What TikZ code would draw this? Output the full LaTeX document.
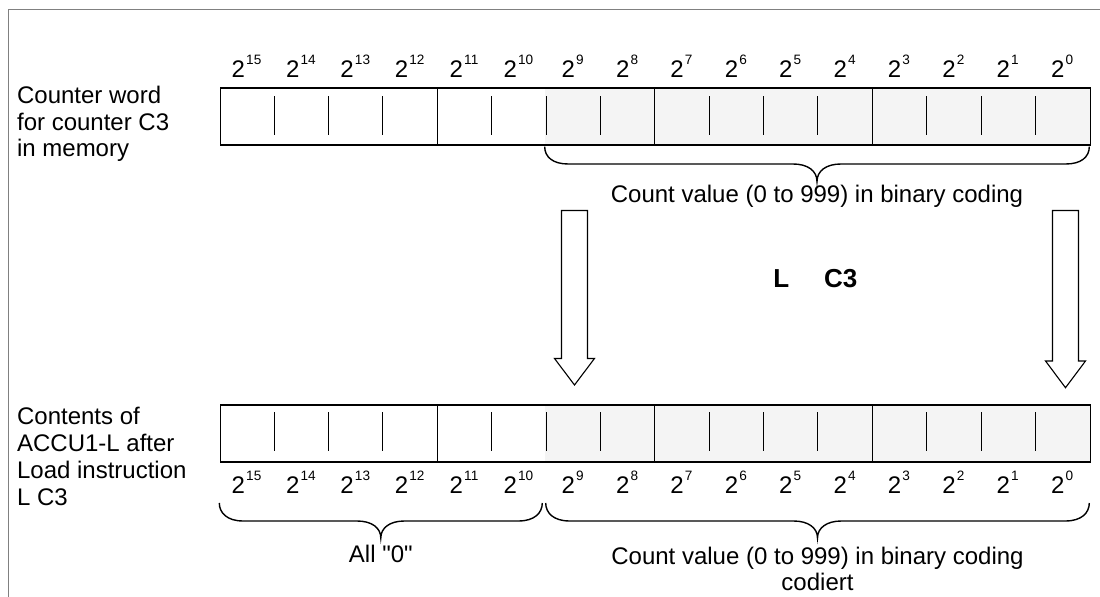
\documentclass[tikz,border=0pt]{standalone}
\usepackage{fontspec}
\setmainfont{Liberation Sans}
\newcommand{\pwr}[1]{2\hspace{0.6pt}\raisebox{6.8pt}{\fontsize{6.8}{7}\selectfont #1}}
\newcommand{\sq}{\XeTeXglyph\XeTeXglyphindex "quotedbl" }
\begin{document}
\begin{tikzpicture}[x=0.5pt,y=-0.5pt,
  lbl/.style={font=\fontsize{12}{13.5}\selectfont, inner sep=0pt, anchor=base west},
  txt/.style={font=\fontsize{12}{13.5}\selectfont, inner sep=0pt, anchor=base},
  bit/.style={font=\fontsize{12}{13.5}\selectfont, inner sep=0pt, anchor=base},
  regbox/.style={draw, line width=0.8pt, inner sep=0pt, minimum width=435pt, minimum height=28.5pt, anchor=north west},
  shade/.style={fill=gray!9},
  tickline/.style={line width=0.75pt},
  brace/.style={line width=0.7pt},
  blockarrow/.style={draw, line width=0.55pt, fill=white, line join=miter},
  framel/.style={draw=gray, line width=0.7pt}]
\useasboundingbox (0,0) rectangle (1100,597);
\fill[white] (0,0) rectangle (1100,597);
\draw[framel] (8.5,597) -- (8.5,9.5) -- (1100,9.5);

% ---------- top register ----------
\fill[shade] (544.5,87.5) rectangle (1089.5,144.5);
\node[regbox] (reg1) at (219.5,87.5) {};
\foreach \i in {4,8,12} \draw[line width=0.8pt] ({round(219.3+\i*54.375)+0.5},87.5) -- ({round(219.3+\i*54.375)+0.5},144.5);
\foreach \i in {1,2,3,5,6,7,9,10,11,13,14,15} \draw[tickline] ({round(219.3+\i*54.375)+0.5},96.5) -- ({round(219.3+\i*54.375)+0.5},135.5);
\foreach \b in {0,...,15} \node[bit] (tb\b) at ({219.3+(15-\b+0.5)*54.375},78) {\pwr{\b}};

% ---------- bottom register ----------
\fill[shade] (544.5,404.5) rectangle (1089.5,461.5);
\node[regbox] (reg2) at (219.5,404.5) {};
\foreach \i in {4,8,12} \draw[line width=0.8pt] ({round(219.3+\i*54.375)+0.5},404.5) -- ({round(219.3+\i*54.375)+0.5},461.5);
\foreach \i in {1,2,3,5,6,7,9,10,11,13,14,15} \draw[tickline] ({round(219.3+\i*54.375)+0.5},412.5) -- ({round(219.3+\i*54.375)+0.5},451.5);
\foreach \b in {0,...,15} \node[bit] (bb\b) at ({219.3+(15-\b+0.5)*54.375},494) {\pwr{\b}};

% ---------- left labels ----------
\node[lbl] (t1) at (16.7,104) {Counter word};
\node[lbl] (t2) at (16.7,130.5) {for counter C3};
\node[lbl] (t3) at (16.7,157) {in memory};
\node[lbl] (b1) at (16.7,424.3) {Contents of};
\node[lbl] (b2) at (16.7,451.5) {ACCU1-L after};
\node[lbl] (b3) at (16.7,478.7) {Load instruction};
\node[lbl] (b4) at (16.7,506) {L C3};

% ---------- braces ----------
\draw[brace] (544.7,146.7) .. controls (544.7,157) and (553,164) .. (568,164) -- (793,164)
  .. controls (808,164) and (817,171) .. (817,181.5) .. controls (817,171) and (826,164) .. (841,164)
  -- (1066,164) .. controls (1081,164) and (1089.3,157) .. (1089.3,146.7);
\node[txt] (cv1) at (817,203) {Count value (0 to 999) in binary coding};

\draw[brace] (219.3,503) .. controls (219.3,513) and (227.3,521) .. (243,521) -- (357,521)
  .. controls (372,521) and (380.8,528) .. (380.8,538) .. controls (380.8,528) and (389.6,521) .. (404.6,521)
  -- (518.6,521) .. controls (534.3,521) and (542.3,513) .. (542.3,503);
\node[txt] (zero) at (380.8,563) {All \sq0\sq};

\draw[brace] (545.7,503) .. controls (545.7,513) and (553.7,521) .. (569.5,521) -- (793.5,521)
  .. controls (808.5,521) and (817.5,528) .. (817.5,538) .. controls (817.5,528) and (826.5,521) .. (841.5,521)
  -- (1065.5,521) .. controls (1081.3,521) and (1089.3,513) .. (1089.3,503);
\node[txt] (cv2) at (817.5,564.3) {Count value (0 to 999) in binary coding};
\node[txt] (cod) at (817.5,590.7) {codiert};

% ---------- instruction ----------
\node[font=\fontsize{13}{15}\selectfont\bfseries, inner sep=0pt, anchor=base west] (instr) at (773,287.7) {L\hspace{17.4pt}C3};

% ---------- block arrows ----------
\draw[blockarrow] (561.5,210.5) -- (587.5,210.5) -- (587.5,358.5) -- (594.5,358.5) -- (574.5,385)
  -- (554.5,358.5) -- (561.5,358.5) -- cycle;
\draw[blockarrow] (1052.5,210.5) -- (1078.5,210.5) -- (1078.5,361) -- (1085.5,361) -- (1065.5,387.7)
  -- (1045.5,361) -- (1052.5,361) -- cycle;
\end{tikzpicture}
\end{document}
